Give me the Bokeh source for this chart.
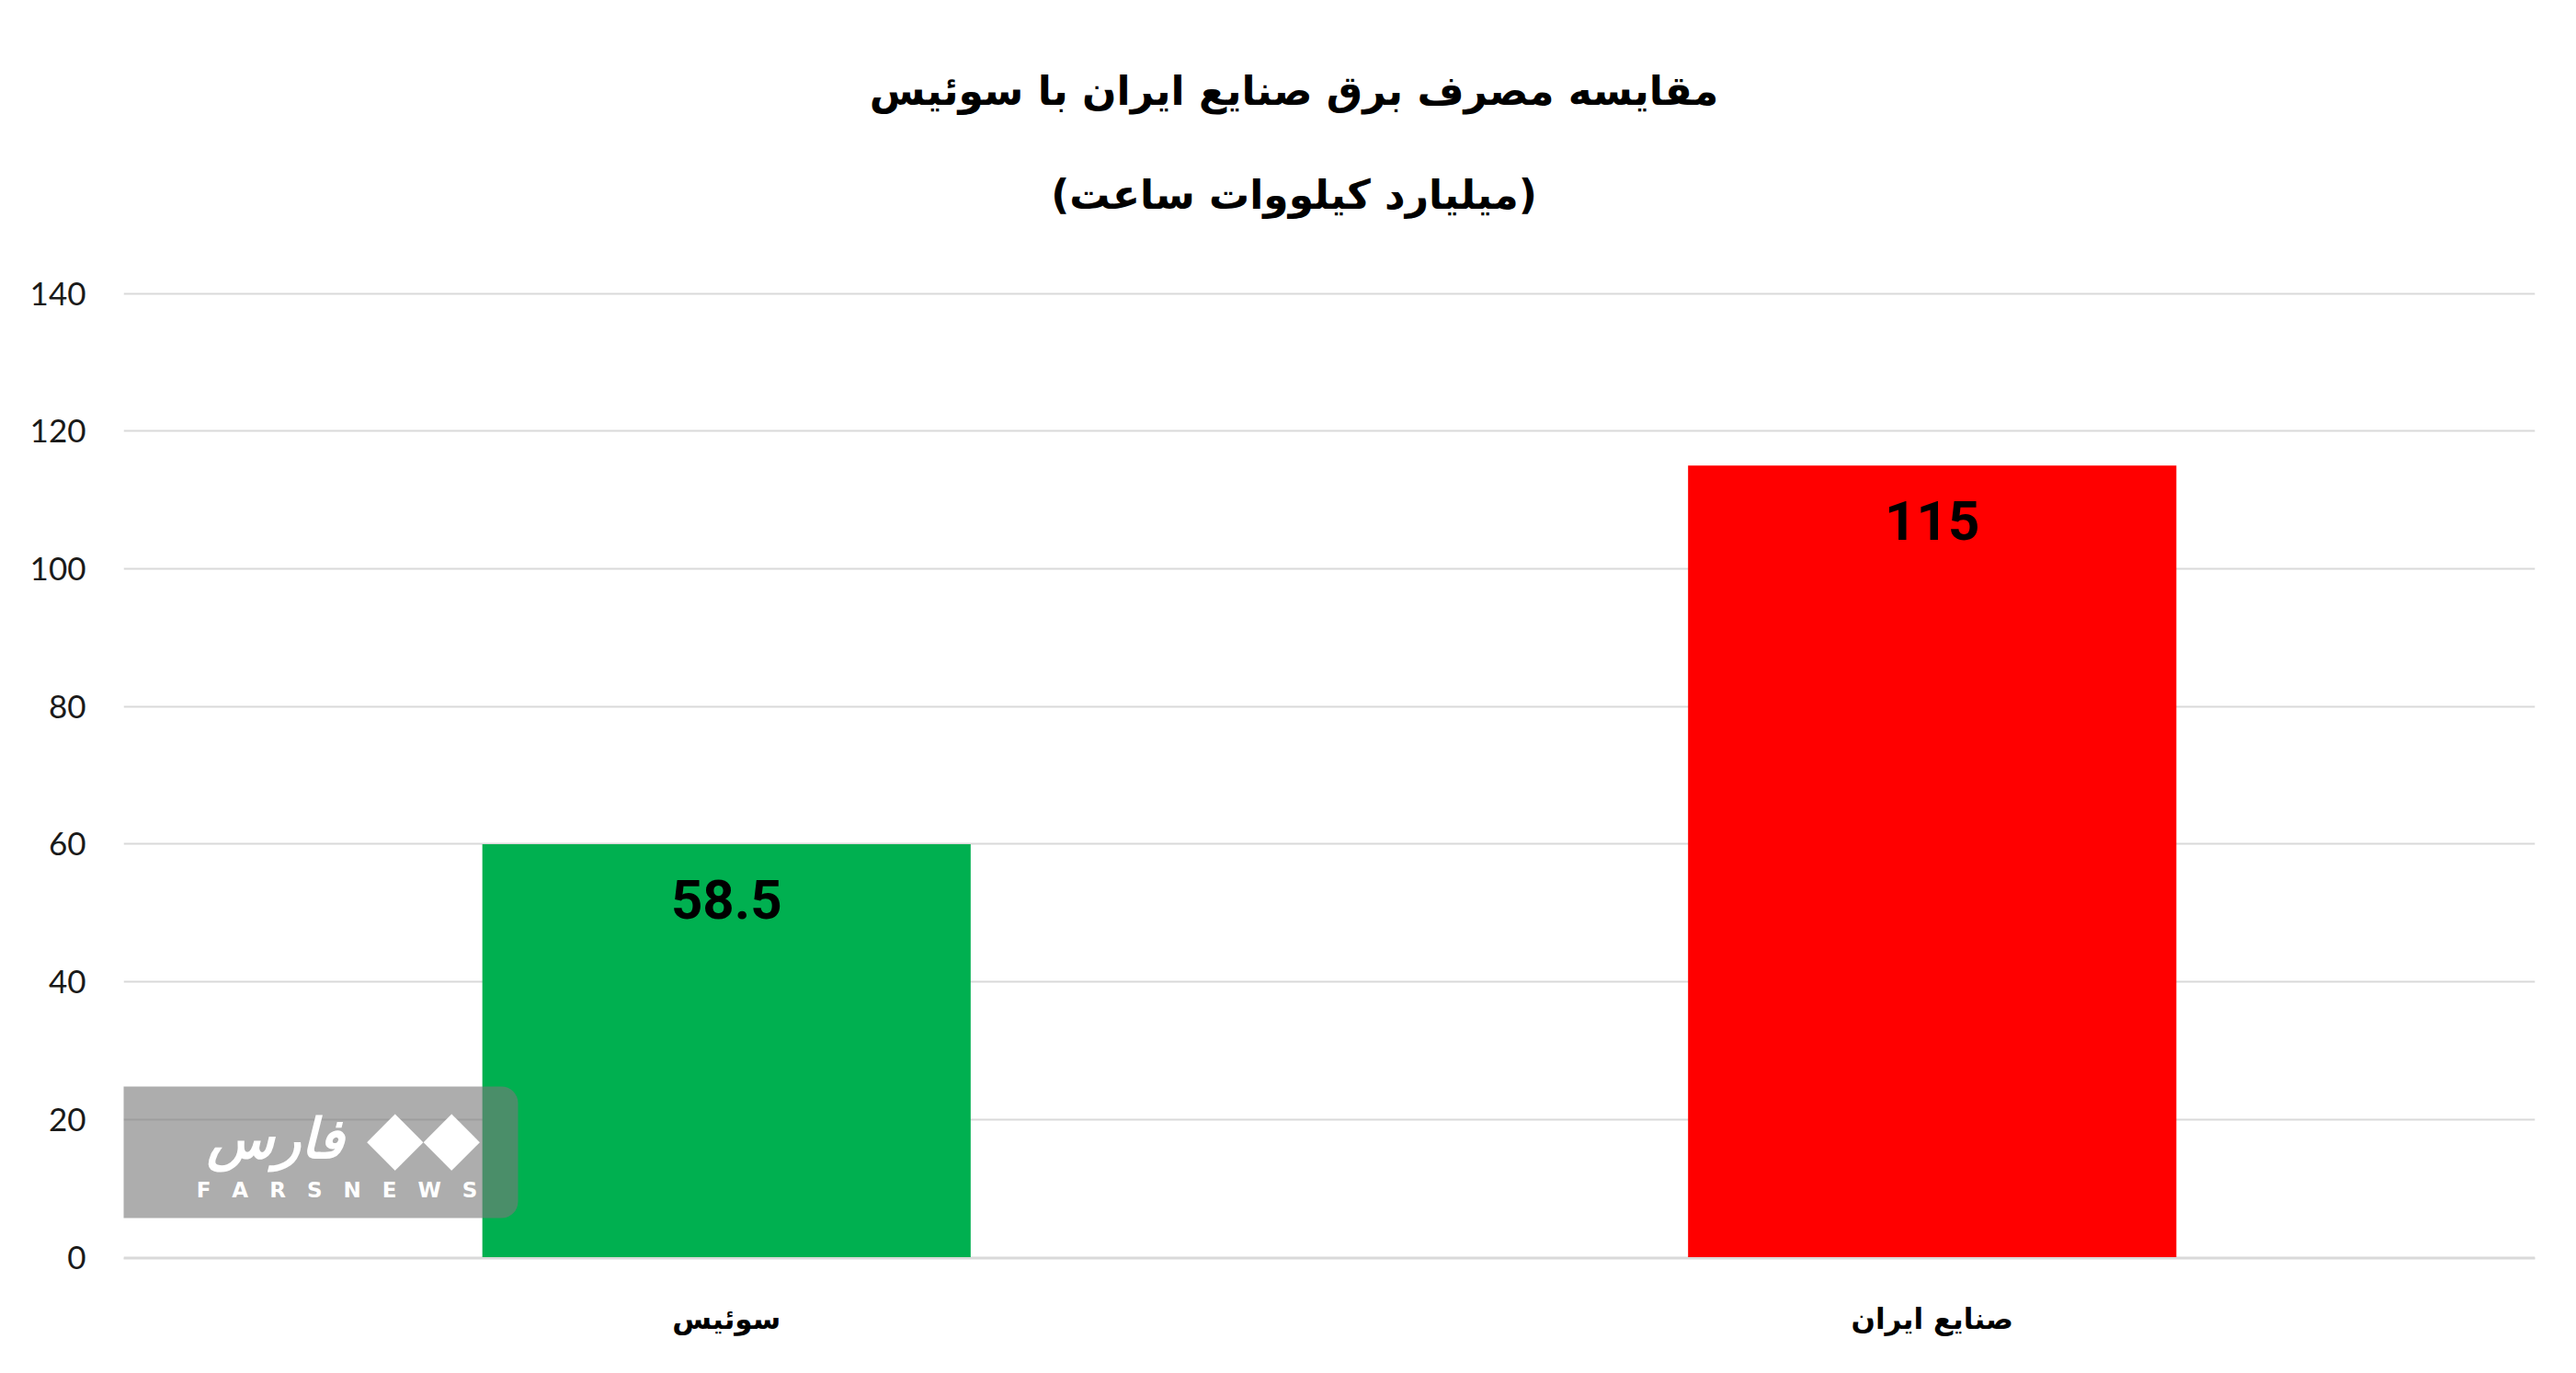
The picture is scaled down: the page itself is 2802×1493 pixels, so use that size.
from bokeh.plotting import figure
from bokeh.models import (ColumnDataSource, FactorRange, Range1d, FixedTicker,
                          Label, LabelSet, BoxAnnotation)
from bokeh.core.properties import value
from bokeh.embed import file_html
from bokeh.resources import INLINE

# ---- data ----
categories = ["سوئیس", "صنایع ایران"]
bar_values = [60, 115]
label_texts = ["58.5", "115"]
bar_colors = ["#00b050", "#ff0000"]
y_ticks = [0, 20, 40, 60, 80, 100, 120, 140]
title_line1 = "مقایسه مصرف برق صنایع ایران با سوئیس"
title_line2 = "(میلیارد کیلووات ساعت)"

W, H = 2786, 1477
FL, FR, FB = 134, 2757, 1368      # frame left/right/bottom in canvas px
Y140 = 319                        # canvas y of the 140 gridline
y_max = y_ticks[-1]
# frame reaches the canvas top, so the range end is chosen to put the top tick at Y140
y_end = y_max * FB / (FB - Y140)

p = figure(width=W, height=H, output_backend="svg", toolbar_location=None,
           x_range=FactorRange(*categories), y_range=Range1d(-0.2, y_end),
           min_border_left=FL, min_border_right=W - FR,
           min_border_top=0, min_border_bottom=H - FB)
p.title.visible = False
p.outline_line_color = None
p.background_fill_color = "white"
p.border_fill_color = "white"

src = ColumnDataSource(dict(cat=categories, val=bar_values, lab=label_texts, col=bar_colors))
p.vbar(x="cat", top="val", width=0.405, fill_color="col", line_color=None, source=src)

labels = LabelSet(x="cat", y="val", text="lab", source=src, text_align="center",
                  text_baseline="middle", y_offset=-60, text_font=value("Roboto"),
                  text_font_style="bold", text_font_size="60px", text_color="black")
p.add_layout(labels)

# axes / grid
p.yaxis.ticker = FixedTicker(ticks=y_ticks)
p.yaxis.axis_line_color = None
p.yaxis.major_tick_line_color = None
p.yaxis.minor_tick_line_color = None
p.yaxis.major_label_text_font = "Lato"
p.yaxis.major_label_text_font_size = "35px"
p.yaxis.major_label_text_color = "#1a1a1a"
p.yaxis.major_label_standoff = 35
p.ygrid.grid_line_color = "#d9d9d9"
p.ygrid.grid_line_width = 2
p.xgrid.grid_line_color = None

p.xaxis.axis_line_color = "#d9d9d9"
p.xaxis.axis_line_width = 2
p.xaxis.major_tick_line_color = None
p.xaxis.minor_tick_line_color = None
p.xaxis.major_label_text_font = "DejaVu Sans"
p.xaxis.major_label_text_font_style = "bold"
p.xaxis.major_label_text_font_size = "31px"
p.xaxis.major_label_text_color = "black"
p.xaxis.major_label_standoff = 41

# title (two centred lines) -- screen units are measured from the frame's bottom-left
cx = 1407 - FL
p.add_layout(Label(x=cx, y=FB - 98, x_units="screen", y_units="screen", text=title_line1,
                   text_align="center", text_baseline="middle", text_font="DejaVu Sans",
                   text_font_style="bold", text_font_size="44px", text_color="black"))
p.add_layout(Label(x=cx, y=FB - 211, x_units="screen", y_units="screen", text=title_line2,
                   text_align="center", text_baseline="middle", text_font="DejaVu Sans",
                   text_font_style="bold", text_font_size="44px", text_color="black"))

# watermark
p.add_layout(BoxAnnotation(left=-FL, right=429, bottom=44, top=187,
                           left_units="screen", right_units="screen",
                           bottom_units="screen", top_units="screen",
                           fill_color="#797979", fill_alpha=0.61, line_color=None,
                           border_radius=18))
p.add_layout(Label(x=165, y=131, x_units="screen", y_units="screen", text="فارس",
                   text_align="center", text_baseline="middle", text_font="DejaVu Sans",
                   text_font_style="bold italic", text_font_size="60px", text_color="white"))
p.add_layout(Label(x=326, y=133, x_units="screen", y_units="screen", text="◆◆",
                   text_align="center", text_baseline="middle", text_font="DejaVu Sans",
                   text_font_size="80px", text_color="white"))
sp = "\u2003"
p.add_layout(Label(x=232, y=75, x_units="screen", y_units="screen",
                   text=sp.join("FARSNEWS"),
                   text_align="center", text_baseline="middle", text_font="DejaVu Sans",
                   text_font_style="bold", text_font_size="23px", text_color="white"))

open("out.html", "w").write(file_html(p, INLINE))
